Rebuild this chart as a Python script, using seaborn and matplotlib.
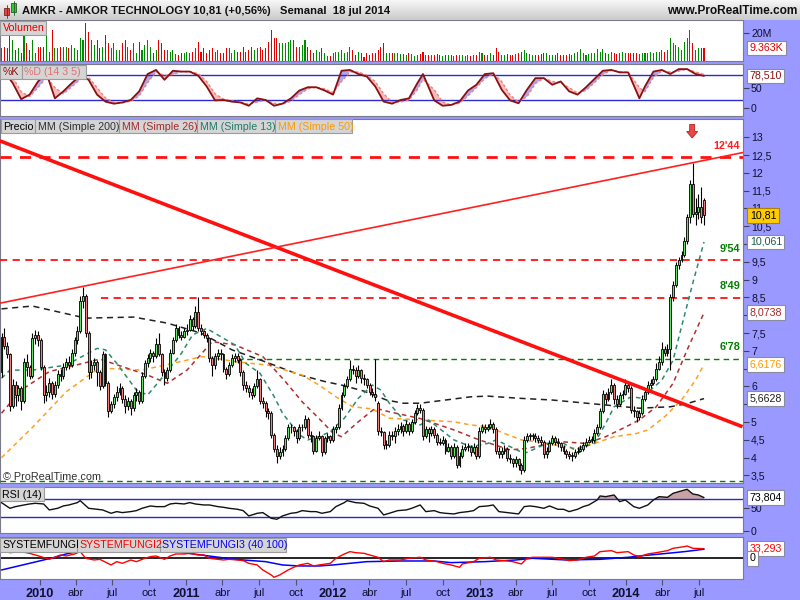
import numpy as np
import pandas as pd
import matplotlib
matplotlib.use("Agg")
import matplotlib.pyplot as plt
import matplotlib.dates as mdates
import matplotlib.transforms as mtrans
from matplotlib.patches import Rectangle, Polygon
from matplotlib.colors import LinearSegmentedColormap
import seaborn as sns

sns.set_theme(style="white")
plt.rcParams["font.family"] = ["Liberation Sans", "DejaVu Sans"]

# ------------------------------------------------------------------ data
first_week = "2009-09-28"   # weekly candles, one per week

open_ = [6.40,7.40,7.15,6.90,5.45,6.05,5.75,5.95,5.60,6.70,
         6.55,6.30,7.35,7.45,7.30,6.55,5.75,5.85,6.10,5.80,
         6.05,6.35,6.30,6.55,6.70,6.60,6.95,7.30,7.55,8.40,
         8.55,7.50,6.40,6.60,6.70,6.40,6.00,6.90,6.10,5.30,
         5.50,5.70,5.85,5.95,5.65,5.45,5.60,5.40,5.75,5.85,
         5.60,6.30,6.65,6.80,6.95,6.85,7.20,6.90,6.40,6.25,
         6.45,6.95,7.30,7.65,7.45,7.40,7.55,7.60,7.90,7.70,
         8.10,7.65,7.55,7.45,7.35,6.80,6.60,6.85,6.95,6.90,
         6.50,6.35,6.60,6.80,6.85,6.75,6.40,6.05,5.95,5.85,
         5.75,6.00,6.20,5.60,5.55,5.30,5.25,4.65,4.25,4.05,
         4.15,4.25,4.55,4.85,4.85,4.75,4.55,4.85,4.85,5.10,
         4.65,4.60,4.20,4.55,4.60,4.15,4.55,4.60,4.50,4.80,
         4.85,5.40,5.75,6.00,6.20,6.50,6.45,6.30,6.45,6.25,
         6.20,6.05,5.85,5.80,5.55,4.75,4.72,4.35,4.35,4.65,
         4.60,4.75,4.80,4.90,4.75,4.95,4.75,5.00,5.25,5.40,
         5.35,4.60,4.80,4.70,4.80,4.65,4.45,4.42,4.50,4.20,
         4.30,4.05,4.30,3.80,4.05,4.25,4.30,4.30,4.15,4.30,
         4.05,4.75,4.85,4.80,4.85,4.95,4.80,4.20,4.10,4.20,
         4.25,4.00,3.95,3.85,3.95,3.80,3.65,4.50,4.60,4.60,
         4.60,4.55,4.50,4.45,4.10,4.20,4.40,4.55,4.45,4.40,
         4.30,4.20,4.10,4.05,4.05,4.15,4.20,4.25,4.35,4.45,
         4.50,4.50,4.70,4.85,5.30,5.80,5.65,5.85,6.05,5.65,
         5.50,5.75,5.80,6.05,5.95,5.35,5.30,5.15,5.25,5.65,
         5.85,6.05,6.10,6.20,6.50,6.70,7.05,6.95,7.05,8.50,
         8.85,9.40,9.55,9.70,10.10,10.75,11.70,10.85,10.90,11.05,11.25]

close = [7.40,7.15,6.90,5.45,6.05,5.75,5.95,5.60,6.70,6.55,
         6.30,7.35,7.45,7.30,6.55,5.75,5.85,6.10,5.80,6.05,
         6.35,6.30,6.55,6.70,6.60,6.95,7.30,7.55,8.40,8.55,
         7.50,6.40,6.60,6.70,6.40,6.00,6.90,6.10,5.30,5.50,
         5.70,5.85,5.95,5.65,5.45,5.60,5.40,5.75,5.85,5.60,
         6.30,6.65,6.80,6.95,6.85,7.20,6.90,6.40,6.25,6.45,
         6.95,7.30,7.65,7.45,7.40,7.55,7.60,7.90,7.70,8.10,
         7.65,7.55,7.45,7.35,6.80,6.60,6.85,6.95,6.90,6.50,
         6.35,6.60,6.80,6.85,6.75,6.40,6.05,5.95,5.85,5.75,
         6.00,6.20,5.60,5.55,5.30,5.25,4.65,4.25,4.05,4.15,
         4.25,4.55,4.85,4.85,4.75,4.55,4.85,4.85,5.10,4.65,
         4.60,4.20,4.55,4.60,4.15,4.55,4.60,4.50,4.80,4.85,
         5.40,5.75,6.00,6.20,6.50,6.45,6.30,6.45,6.25,6.20,
         6.05,5.85,5.80,5.70,4.75,4.72,4.35,4.35,4.65,4.60,
         4.75,4.80,4.90,4.75,4.95,4.75,5.00,5.25,5.40,5.35,
         4.60,4.80,4.70,4.80,4.65,4.45,4.42,4.50,4.20,4.30,
         4.05,4.30,3.80,4.05,4.25,4.30,4.30,4.15,4.30,4.05,
         4.75,4.85,4.80,4.85,4.95,4.80,4.20,4.10,4.20,4.25,
         4.00,3.95,3.85,3.95,3.80,3.65,4.50,4.60,4.60,4.60,
         4.55,4.50,4.45,4.10,4.20,4.40,4.55,4.45,4.40,4.30,
         4.20,4.10,4.05,4.05,4.15,4.20,4.25,4.35,4.45,4.50,
         4.50,4.70,4.85,5.30,5.80,5.65,5.85,6.05,5.65,5.50,
         5.75,5.80,6.05,5.95,5.35,5.30,5.15,5.25,5.65,5.85,
         6.05,6.10,6.20,6.50,6.70,7.05,6.95,7.05,8.50,8.85,
         9.40,9.55,9.70,10.10,10.75,11.70,10.85,10.90,11.05,10.75,10.81]

high = [7.50,7.65,7.25,6.95,6.20,6.15,6.05,6.00,6.80,6.90,
        6.60,7.50,7.60,7.55,7.35,6.60,6.05,6.25,6.15,6.15,
        6.45,6.50,6.65,6.80,6.85,7.05,7.40,7.70,8.55,8.80,
        8.60,7.55,6.75,6.80,6.75,6.45,7.00,6.95,6.15,5.60,
        5.80,6.00,6.10,6.00,5.75,5.70,5.65,5.85,5.95,5.90,
        6.40,6.75,6.90,7.05,7.00,7.35,7.50,6.95,6.50,6.55,
        7.05,7.40,7.75,7.70,7.55,7.65,7.75,8.00,7.95,8.25,
        8.50,7.75,7.60,7.50,7.40,6.85,6.95,7.05,7.05,6.95,
        6.55,6.70,6.90,6.95,6.95,6.80,6.45,6.15,6.05,5.95,
        6.10,6.45,6.25,5.70,5.60,5.40,5.30,4.70,4.35,4.30,
        4.35,4.65,4.95,4.95,4.90,4.80,4.95,4.95,5.20,5.15,
        4.75,4.65,4.65,4.75,4.65,4.60,4.70,4.65,4.90,4.95,
        5.50,5.85,6.10,6.30,6.75,6.60,6.55,6.60,6.50,6.35,
        6.25,6.10,5.95,6.78,5.60,4.85,4.75,4.50,4.75,4.75,
        4.85,4.95,5.00,4.95,5.05,5.00,5.10,5.35,5.50,5.50,
        5.40,4.90,4.85,4.90,4.85,4.70,4.55,4.60,4.55,4.40,
        4.35,4.40,4.35,4.15,4.35,4.40,4.40,4.35,4.40,4.35,
        4.85,4.95,4.95,4.95,5.10,5.00,4.85,4.30,4.30,4.35,
        4.30,4.10,4.00,4.05,4.00,3.85,4.60,4.70,4.70,4.70,
        4.70,4.65,4.60,4.50,4.30,4.50,4.65,4.60,4.55,4.45,
        4.35,4.25,4.20,4.15,4.25,4.30,4.35,4.45,4.55,4.60,
        4.60,4.80,4.95,5.40,5.90,5.85,5.95,6.20,6.10,5.75,
        5.85,5.90,6.20,6.15,6.00,5.45,5.35,5.35,5.75,5.95,
        6.15,6.20,6.30,6.65,6.85,7.25,7.15,7.20,8.60,8.95,
        9.50,9.65,9.80,10.20,10.85,11.80,12.27,11.30,11.40,11.60,11.30]

low = [6.28,7.05,6.80,5.30,5.40,5.45,5.60,5.35,5.55,6.30,
       6.20,6.25,7.20,7.15,6.45,5.55,5.60,5.70,5.65,5.70,
       5.95,6.15,6.20,6.45,6.50,6.55,6.85,7.20,7.50,8.20,
       7.40,6.20,6.25,6.45,6.00,5.90,5.95,6.00,5.15,5.25,
       5.40,5.60,5.75,5.55,5.25,5.35,5.20,5.30,5.60,5.50,
       5.55,6.25,6.55,6.70,6.70,6.80,6.85,6.30,6.05,6.15,
       6.40,6.90,7.25,7.35,7.30,7.35,7.45,7.55,7.60,7.65,
       7.55,7.45,7.35,7.25,6.70,6.30,6.50,6.75,6.75,6.40,
       6.20,6.30,6.55,6.70,6.65,6.30,5.90,5.85,5.70,5.65,
       5.70,5.95,5.50,5.40,5.15,5.10,4.55,4.15,3.85,3.95,
       4.05,4.20,4.50,4.70,4.60,4.40,4.50,4.75,4.80,4.55,
       4.45,4.10,4.15,4.50,4.05,4.10,4.45,4.40,4.45,4.70,
       4.80,5.35,5.70,5.95,6.15,6.35,6.10,6.25,6.10,6.05,
       5.95,5.75,5.70,5.60,4.65,4.60,4.25,4.25,4.30,4.50,
       4.40,4.65,4.70,4.60,4.70,4.65,4.70,4.95,5.20,5.25,
       4.50,4.55,4.45,4.60,4.55,4.35,4.35,4.35,4.10,4.15,
       3.95,4.00,3.70,3.75,4.00,4.20,4.20,4.05,4.10,3.95,
       4.00,4.70,4.70,4.75,4.80,4.70,4.10,4.00,4.00,4.10,
       3.90,3.85,3.75,3.75,3.65,3.55,3.60,4.45,4.50,4.50,
       4.45,4.40,4.35,4.00,4.00,4.15,4.35,4.35,4.30,4.20,
       4.10,4.00,3.95,3.90,4.00,4.10,4.15,4.20,4.30,4.40,
       4.40,4.45,4.65,4.80,5.25,5.50,5.60,5.80,5.50,5.40,
       5.45,5.65,5.75,5.85,5.25,5.15,5.00,5.05,5.20,5.60,
       5.80,5.95,6.05,6.15,6.45,6.60,6.85,6.85,6.45,8.40,
       8.80,9.30,9.50,9.65,10.00,10.60,10.75,10.55,10.70,10.60,10.55]

volume_m = [9.1,10.3,9.5,18.8,15.2,8.0,9.1,5.5,18.8,12.8,
            8.0,15.2,5.5,10.4,10.4,10.4,18.8,6.7,22.4,9.1,
            9.1,10.4,10.4,10.4,9.1,11.5,9.1,7.9,16.4,15.2,
            27.2,21.2,15.2,11.5,15.2,9.1,10.4,18.8,12.8,9.1,
            12.8,7.9,7.9,12.8,15.2,10.4,7.9,12.8,5.5,14.0,
            7.9,11.5,15.2,10.4,5.5,7.9,15.2,12.8,7.9,7.9,
            6.7,7.9,4.8,4.1,5.5,5.5,6.7,5.5,6.7,9.1,
            13.7,6.7,9.1,5.5,7.9,9.1,6.7,7.9,5.5,5.5,
            9.1,9.1,5.5,7.9,6.7,6.7,10.4,6.7,7.9,10.4,
            7.9,9.1,10.4,7.9,9.1,14.0,22.4,16.4,16.4,12.8,
            12.8,12.8,14.0,15.2,15.2,10.4,10.4,11.5,15.2,10.4,
            7.9,5.5,7.9,6.7,9.1,5.5,3.6,3.6,5.5,6.7,
            6.7,7.9,5.5,6.7,10.4,7.9,4.1,6.7,5.5,3.1,
            5.5,4.1,5.5,5.5,7.9,10.4,12.8,5.5,5.5,5.5,
            5.8,5.5,5.0,5.0,4.6,5.5,5.0,3.6,4.6,5.0,
            6.2,4.6,4.1,4.6,4.1,5.0,4.1,3.6,4.1,4.6,
            4.1,3.6,4.6,4.1,4.1,3.6,4.1,3.6,4.6,4.6,
            6.2,5.5,4.6,4.6,5.5,4.1,9.1,6.7,4.6,4.1,
            5.0,4.1,4.1,5.0,5.5,6.2,7.9,6.0,5.0,4.1,
            4.6,4.1,5.0,5.5,6.0,4.6,4.1,4.1,6.0,4.6,
            4.6,4.1,5.0,4.1,5.5,6.2,8.4,5.5,4.6,5.0,
            5.5,5.5,8.4,6.7,8.4,5.5,5.0,6.2,5.5,5.0,
            5.5,6.2,5.5,5.5,6.0,6.0,5.5,5.0,5.5,6.0,
            5.5,6.2,5.5,6.7,6.2,7.9,6.7,7.9,16.4,12.8,
            11.6,10.4,7.9,14.0,16.4,22.4,12.8,7.9,9.1,9.1,9.36]

# moving averages, read at sample candles
ma200_idx = [0, 11, 30, 47, 59, 71, 82, 94, 106, 115, 121, 129, 137, 143, 149, 155, 167, 173, 184, 196, 215, 227, 238, 244, 250]
ma200 = [8.18, 8.26, 7.92, 7.95, 7.78, 7.50, 7.03, 6.69, 6.33, 6.14, 6.04, 5.87, 5.62, 5.53, 5.53, 5.59, 5.71, 5.73, 5.67, 5.62, 5.48, 5.39, 5.43, 5.52, 5.66]
ma50_idx = [0, 11, 23, 33, 37, 50, 66, 71, 75, 83, 95, 107, 113, 119, 125, 132, 138, 149, 161, 167, 173, 179, 185, 190, 197, 204, 211, 218, 226, 230, 236, 242, 247, 250]
ma50 = [4.00, 4.85, 5.85, 6.42, 6.51, 6.46, 6.74, 6.84, 6.81, 6.70, 6.60, 6.32, 6.04, 5.71, 5.43, 5.37, 5.11, 5.06, 5.01, 4.92, 4.87, 4.68, 4.50, 4.45, 4.36, 4.26, 4.40, 4.59, 4.68, 4.78, 5.15, 5.62, 6.18, 6.62]
ma26_idx = [0, 7, 17, 29, 35, 52, 59, 66, 75, 83, 93, 101, 107, 113, 118, 121, 127, 133, 138, 149, 161, 170, 181, 187, 193, 199, 208, 215, 221, 227, 233, 239, 244, 250]
ma26 = [5.25, 5.90, 6.42, 6.65, 6.77, 6.32, 6.09, 6.46, 7.26, 7.17, 6.84, 6.14, 5.57, 5.10, 4.69, 4.59, 5.01, 5.39, 5.29, 5.10, 4.78, 4.50, 4.22, 4.26, 4.36, 4.45, 4.40, 4.59, 4.82, 5.06, 5.43, 6.09, 7.03, 8.07]
ma13_idx = [0, 3, 11, 23, 34, 37, 41, 48, 52, 59, 64, 68, 73, 83, 87, 92, 97, 100, 106, 109,
            113, 117, 122, 127, 132, 135, 138, 143, 149, 152, 161, 167, 173, 176, 181, 186, 189, 194, 199, 204,
            211, 215, 218, 224, 228, 231, 235, 239, 242, 246, 250]
ma13 = [6.23, 6.46, 6.46, 6.60, 7.07, 7.03, 6.65, 5.90, 5.76, 6.42, 6.93, 7.45, 7.63, 7.17, 6.65, 6.37, 5.72, 5.25, 4.64, 4.50,
        4.59, 4.73, 5.11, 5.67, 6.04, 5.90, 5.53, 5.06, 4.92, 5.06, 4.50, 4.31, 4.40, 4.50, 4.31, 4.12, 4.22, 4.40, 4.45, 4.22,
        4.40, 4.96, 5.43, 5.71, 5.67, 5.90, 6.18, 6.74, 7.68, 8.90, 10.06]

# horizontal levels and trend lines
level_values = [12.44, 9.54, 8.49, 6.78]
level_labels = ["12'44", "9'54", "8'49", "6'78"]
level_starts = ["2009-09-24", "2009-09-24", "2010-06-04", "2011-05-07"]
floor_level = 3.34
trend_dates = ["2009-09-24", "2014-10-18"]
trend_down = [12.90, 4.87]
trend_up = [8.34, 12.57]

# stochastic %K / %D (14 3 5)
sto_idx = [1,4,7,10,13,16,19,22,25,28, 31,34,37,40,43,46,49,52,55,58,
           61,64,67,70,73,76,79,82,85,88, 91,94,97,100,103,106,109,112,115,118,
           121,124,127,130,133,136,139,142,145,148, 150,154,157,160,163,166,169,172,175,178,
           181,184,187,190,193,196,199,202,205,208, 211,214,217,220,223,227,229,232,235,238,
           241,244,247,250]
sto_k = [89,61,22,33,65,85,24,41,61,79, 69,33,16,11,14,20,41,83,93,69,
         91,89,89,79,53,19,20,16,14,6, 24,20,6,11,24,43,51,51,43,33,
         91,93,83,77,53,16,11,20,24,61, 83,19,6,8,16,43,57,83,85,45,
         19,12,45,73,73,57,65,41,33,51, 71,91,93,87,87,24,53,89,93,83,
         95,95,83,78.5]
sto_d = [85,75,40,28,50,75,50,35,52,70, 75,50,25,14,13,17,30,62,88,80,
         82,89,89,84,65,35,22,18,15,10, 15,20,12,10,17,33,47,51,47,38,
         65,88,88,80,65,35,15,15,20,45, 70,45,15,8,12,30,50,72,84,65,
         32,15,28,60,73,65,62,50,37,43, 62,82,92,89,87,50,40,75,90,88,
         90,95,88,82]

# RSI (14)
rsi_idx = [0,3,5,8,10,12,15,17,20,22, 24,27,28,31,34,36,39,41,43,46,
           48,50,53,55,58,60,62,65,67,69, 72,74,77,79,81,84,86,88,91,93,
           96,98,100,103,105,107,110,112,114,117, 119,122,123,126,129,131,134,136,138,141,
           144,146,149,151,154,156,158,161,163,166, 168,170,173,175,177,180,182,184,186,188,
           190,193,195,198,200,202,205,207,209,212, 213,215,218,220,222,225,227,230,232,234,
           237,239,241,244,246,248,250]
rsi = [62.6,50,53.7,57.4,59.6,61.1,59.6,46.3,50,55.2, 57.4,62.6,67,50,47.8,46.3,38.9,42.6,40.4,42.6,
       44.8,50,55.2,53.7,53.7,59.6,61.1,59.6,62.6,59.6, 57.4,57.4,53.7,52.2,50,47.8,44.8,33,38.9,40.4,
       27.8,25.6,33,38.9,40.4,44.8,42.6,42.6,38.9,42.6, 53.7,62.6,67,62.6,61.1,55.2,50,35.2,38.9,44.8,
       46.3,50,57.4,42.6,44.8,40.4,38.9,37.4,40.4,42.6, 44.8,53.7,55.2,57.4,42.6,40.4,38.9,37.4,53.7,55.2,
       53.7,50,55.2,47.8,47.8,42.6,47.8,53.7,57.4,68.5, 77.4,75.9,79.6,64.8,68.5,53.7,50,57.4,68.5,75.9,
       74.4,83.3,87,92.2,81.8,79.6,73.8]

# SYSTEMFUNGI2 (red) and SYSTEMFUNGI3 (blue)
sf2_idx = [0,3,7,10,14,17,21,23,26,28, 30,33,35,39,41,43,46,48,51,53,
           55,58,60,62,65,67,70,72,74,77, 79,81,84,86,88,91,93,96,97,99,
           102,104,106,109,111,113,117,119,122,124, 126,129,131,134,136,138,142,145,149,151,
           155,157,160,163,164,168,170,174,176,179, 182,185,187,189,193,196,200,202,205,208,
           211,213,217,219,223,225,227,230,233,237, 239,243,244,246,250]
sf2 = [26.6,19.6,23.1,17.3,5.8,-3.5,11.6,8.1,15,23.1, 0,-5.8,-3.5,-23.1,-11.6,-17.4,-5.8,-11.6,0,5.8,
       8.1,-3.5,8.1,15,15,17.3,11.6,11.6,0,-3.5, -5.8,-3.5,-5.8,-8.1,-17.4,-23.1,-40.5,-57.8,-65.9,-57.8,
       -40.5,-31.2,-23.1,-17.4,-26.6,-23.1,-17.4,0,15,23.1, 19.6,17.3,11.6,3.5,-11.6,-5.8,-5.8,0,3.5,-5.8,
       -11.6,-17.4,-23.1,-31.2,-19.7,-11.6,0,3.5,-5.8,-8.1, -11.6,-19.7,0,3.5,3.5,3.5,-3.5,-8.1,-5.8,3.5,
       8.1,23.1,26.6,19.6,23.1,11.6,5.8,15,19.6,26.6, 34.7,40.5,42.8,34.7,33.3]
sf3_idx = [0, 4, 9, 14, 19, 23, 27, 35, 47, 56, 62, 71, 83, 94, 100, 106, 113, 118, 130, 142,
           154, 160, 172, 183, 189, 201, 213, 223, 227, 237, 243, 250]
sf3 = [-40.5, -31.2, -19.7, -8.1, 3.5, 15, 23.1, 34.7, 46, 34.7, 23.1, 11.6, -3.5, -11.6, -23.1, -26.6, -26.6, -23.1, -11.6, -9.3,
       -9.3, -15, -11.6, -5.8, 0, -5.8, -3.5, 3.5, 8.1, 17.3, 23.1, 31.5]

# last-value boxes on the right scale
last_close, prev_change = 10.81, "+0,56%"
last_ma13, last_ma26, last_ma50, last_ma200 = 10.061, 8.0738, 6.6176, 5.6628
last_volume_k = 9.363
last_k, last_rsi, last_sf2 = 78.510, 73.804, 33.293

# ------------------------------------------------------------------ layout
W, H = 800, 600
PLOT_R = 742.7
fig = plt.figure(figsize=(8, 6), dpi=100, facecolor="#9999ff")

def panel(top, bottom):
    ax = fig.add_axes([0, 1 - bottom / H, PLOT_R / W, (bottom - top) / H])
    ax.set_facecolor("white")
    for s in ax.spines.values():
        s.set_color("#7a7a8a")
        s.set_linewidth(0.8)
    return ax

ax_vol = panel(20, 61)
ax_sto = panel(64, 116)
ax_main = panel(118.5, 483)
ax_rsi = panel(486.7, 533.3)
ax_sf = panel(537.3, 579)
axes = [ax_vol, ax_sto, ax_main, ax_rsi, ax_sf]

dates = pd.date_range(first_week, periods=len(close), freq="7D")
xn = mdates.date2num(dates)
x_left = mdates.date2num(dates[0] - pd.Timedelta(days=3.74))
x_right = mdates.date2num(dates[0] + pd.Timedelta(days=263.77 * 7))

o = np.array(open_); c = np.array(close); hi = np.array(high); lo = np.array(low)
up = c >= o

def sline(ax, idx, vals, color, lw=1.0, ls="-", z=3):
    sns.lineplot(x=xn[np.asarray(idx)], y=np.asarray(vals, float), ax=ax, color=color,
                 linewidth=lw, linestyle=ls, legend=False, zorder=z, errorbar=None)

# ---- volume
ax_vol.bar(xn, volume_m, width=2.6, color=np.where(up, "#008a00", "#e00000"), linewidth=0)
ax_vol.set_ylim(0, 29.6)

# ---- stochastic
K = np.array(sto_k, float); D = np.array(sto_d, float); xs = xn[np.array(sto_idx)]
ax_sto.fill_between(xs, K, D, where=K >= D, interpolate=True, color="#aaaaee", lw=0, zorder=1)
ax_sto.fill_between(xs, K, D, where=K < D, interpolate=True, color="#f6bcbc", lw=0, zorder=1)
for lv in (20, 80):
    ax_sto.axhline(lv, color="#2a2ad0", lw=1.0, zorder=2)
sline(ax_sto, sto_idx, sto_d, "#f08080", lw=1.0, ls=(0, (2, 1.5)), z=3)
sline(ax_sto, sto_idx, sto_k, "#8b1010", lw=1.3, z=4)
ax_sto.set_ylim(-18.9, 107.4)

# ---- main price panel
ax_main.vlines(xn, lo, hi, color="black", lw=0.8, zorder=5)
ax_main.bar(xn, np.maximum(np.abs(c - o), 0.025), bottom=np.minimum(o, c), width=4.8,
            color=np.where(up, "#66e066", "#f08080"), edgecolor="black", linewidth=0.6, zorder=6)

sline(ax_main, ma200_idx, ma200, "#202020", lw=1.1, ls=(0, (4, 3)), z=4)
sline(ax_main, ma50_idx, ma50, "#ffa020", lw=1.1, ls=(0, (3, 2.5)), z=4)
sline(ax_main, ma26_idx, ma26, "#b03030", lw=1.1, ls=(0, (3, 2.5)), z=4)
sline(ax_main, ma13_idx, ma13, "#2e8b67", lw=1.1, ls=(0, (3, 2.5)), z=4)

td = mdates.date2num(pd.to_datetime(trend_dates))
ax_main.plot(td, trend_down, color="#ff1010", lw=2.6, zorder=7, solid_capstyle="butt")
ax_main.plot(td, trend_up, color="#ff2020", lw=1.2, zorder=7)

tr_main = mtrans.blended_transform_factory(ax_main.transAxes, ax_main.transData)
for val, lab, start in zip(level_values, level_labels, level_starts):
    xs0 = mdates.date2num(pd.Timestamp(start))
    green = val < 7
    col = "#008000" if green else "#ff1010"
    lw = 2.0 if val > 12 else (1.0 if green else 1.3)
    ax_main.plot([xs0, x_right], [val, val], color=col, lw=lw, ls=(0, (4, 3)), zorder=3)
    ax_main.text(0.997, val + 0.32, lab, transform=tr_main, ha="right", va="center", fontsize=7.8,
                 fontweight="bold", color="#ff2020" if val > 12 else "#008000", zorder=8)
ax_main.plot([x_left, x_right], [floor_level, floor_level], color="#008000", lw=1.0, ls=(0, (4, 3)), zorder=3)

# red block arrow above the highest candle (shape in inches, anchored at the data point)
peak = int(np.argmax(hi))
arrow_tf = fig.dpi_scale_trans + mtrans.ScaledTranslation(xn[peak] - 1.5, 12.98, ax_main.transData)
arrow_shape = [(0, 0), (-0.055, 0.065), (-0.025, 0.065), (-0.025, 0.135),
               (0.025, 0.135), (0.025, 0.065), (0.055, 0.065)]
ax_main.add_patch(Polygon(arrow_shape, closed=True, transform=arrow_tf, fc="#e84848",
                          ec="#b82020", lw=0.6, zorder=9, clip_on=False))
ax_main.set_ylim(3.289, 13.528)

# ---- RSI
R = np.array(rsi, float); xr = xn[np.array(rsi_idx)]
ax_rsi.fill_between(xr, R, 70, where=R > 70, interpolate=True, color="#c9a3a3", lw=0, zorder=1)
for lv in (30, 70):
    ax_rsi.axhline(lv, color="#2a2ac0", lw=1.0, zorder=2)
sline(ax_rsi, rsi_idx, rsi, "#111111", lw=1.0, z=3)
ax_rsi.set_ylim(-5.6, 98.0)

# ---- SYSTEMFUNGI
ax_sf.axhline(0, color="black", lw=1.2, zorder=2)
sline(ax_sf, sf3_idx, sf3, "#0000ff", lw=1.1, z=3)
sline(ax_sf, sf2_idx, sf2, "#ff0000", lw=1.0, z=4)
ax_sf.set_ylim(-71.8, 72.9)

# ---- axes styling
tick_col = "#101030"
for ax in axes:
    ax.set_xlim(x_left, x_right)
    ax.set_xlabel(""); ax.set_ylabel("")
    ax.yaxis.tick_right()
    ax.tick_params(axis="y", which="both", direction="out", length=4, width=0.8, color="#404060",
                   labelsize=7.6, labelcolor=tick_col, pad=2, right=True, left=False, labelright=True, labelleft=False)
    ax.tick_params(axis="x", bottom=False, labelbottom=False)
    ax.grid(False)

def fmt(v):
    return f"{v:g}".replace(".", ",")

ax_vol.set_yticks([20]); ax_vol.set_yticklabels(["20M"])
ax_sto.set_yticks([0, 50]); ax_sto.set_yticklabels(["0", "50"])
mt = np.arange(3.5, 13.01, 0.5)
box_levels = [last_close, last_ma13, last_ma26, last_ma50, last_ma200]
# tick labels that sit under a value box are covered in the chart
main_labels = ["" if min(abs(v - b) for b in box_levels if b != last_close) < 0.2 else fmt(v) for v in mt]
ax_main.set_yticks(mt); ax_main.set_yticklabels(main_labels)
ax_rsi.set_yticks([0, 50]); ax_rsi.set_yticklabels(["0", "50"])
ax_sf.set_yticks([])

tick_dates = pd.date_range("2010-01-01", "2014-07-01", freq="QS")
month_names = {1: None, 4: "abr", 7: "jul", 10: "oct"}
ax_sf.set_xticks(mdates.date2num(tick_dates))
ax_sf.set_xticklabels([str(d.year) if d.month == 1 else month_names[d.month] for d in tick_dates])
ax_sf.tick_params(axis="x", bottom=True, labelbottom=True, direction="out", length=4, width=0.8,
                  color="#505070", pad=2.5, labelsize=8, labelcolor=tick_col)
for lab, d in zip(ax_sf.get_xticklabels(), tick_dates):
    if d.month == 1:
        lab.set_fontweight("bold")
        lab.set_fontsize(9.2)

def vbox(ax, y, text, color, fc="white", ec="#8a8aa0"):
    tr = mtrans.blended_transform_factory(ax.transAxes, ax.transData)
    ax.text(1.0095, y, text, transform=tr, ha="left", va="center", fontsize=7.7, color=color,
            bbox=dict(boxstyle="square,pad=0.22", fc=fc, ec=ec, lw=0.8), zorder=20, clip_on=False)

vbox(ax_vol, last_volume_k, f"{last_volume_k:.3f}K", "#e00000")
vbox(ax_sto, last_k, f"{last_k:.3f}".replace(".", ","), "#8b1010")
vbox(ax_main, last_ma13, "10,061", "#1d5c4a")
vbox(ax_main, last_close, "10,81", "#000000", fc="#ffcc00", ec="#b08000")
vbox(ax_main, last_ma26, "8,0738", "#a52a2a")
vbox(ax_main, last_ma50, "6,6176", "#ff9900")
vbox(ax_main, last_ma200, "5,6628", "#202020")
vbox(ax_rsi, last_rsi, "73,804", "#000000")
vbox(ax_sf, last_sf2, "33,293", "#ff0000")
vbox(ax_sf, 0, "0", "#000000")

# ---- title bar
tax = fig.add_axes([0, 1 - 20 / H, 1, 20 / H], zorder=20)
grad = np.linspace(0, 1, 20)[:, None]
tax.imshow(grad, cmap=LinearSegmentedColormap.from_list("g", ["#f6f6f6", "#cbcbcb"]),
           aspect="auto", extent=[0, W, 20, 0])
tax.set_xlim(0, W); tax.set_ylim(20, 0); tax.axis("off")
tax.add_patch(Rectangle((4, 8), 5, 7, fc="#e04848", ec="#802020", lw=0.6))
tax.plot([6.5, 6.5], [5, 18], color="#802020", lw=0.6)
tax.add_patch(Rectangle((11, 3), 5, 9, fc="#40c040", ec="#206020", lw=0.6))
tax.plot([13.5, 13.5], [1, 15], color="#206020", lw=0.6)
tb = dict(fontsize=8.1, fontweight="bold", color="#101010", va="center")
tax.text(22, 10.5, "AMKR - AMKOR TECHNOLOGY", **tb)
tax.text(193, 10.5, f"{fmt(last_close)} ({prev_change})", **tb)
tax.text(280, 10.5, "Semanal  18 jul 2014", **tb)
tax.text(797, 10.5, "www.ProRealTime.com", ha="right", fontsize=8.6, fontweight="bold", color="#101010", va="center")

# ---- overlay tags (pixel coordinates)
ov = fig.add_axes([0, 0, 1, 1], zorder=30)
ov.set_xlim(0, W); ov.set_ylim(H, 0); ov.axis("off")

def tag_row(y0, items, h=14):
    for text, color, xa, xb in items:
        ov.add_patch(Rectangle((xa, y0), xb - xa, h, fc="#d5d5d5", ec="#9c9c9c", lw=0.8))
        ov.text(xa + 2.5, y0 + h / 2 + 0.5, text, color=color, fontsize=7.7, va="center", ha="left")

tag_row(20.5, [("Volumen", "#e00000", 0, 46)])
tag_row(64.5, [("%K", "#8b1010", 0, 22), ("%D (14 3 5)", "#e07070", 22, 86)])
tag_row(119, [("Precio", "#000000", 1, 35), ("MM (Simple 200)", "#303030", 35, 119),
              ("MM (Simple 26)", "#a52a2a", 119, 197), ("MM (Simple 13)", "#1f7a6a", 197, 275),
              ("MM (Simple 50)", "#ff9900", 275, 352)])
tag_row(487, [("RSI (14)", "#000000", 0, 44)])
tag_row(537.5, [("SYSTEMFUNGI", "#000000", 0, 77), ("SYSTEMFUNGI2", "#ff0000", 77, 160),
                ("SYSTEMFUNGI3 (40 100)", "#0000ff", 160, 286)])
ov.text(3, 477.5, "\u00a9 ProRealTime.com", fontsize=7.8, color="#303030", va="center", ha="left")

fig.savefig("out.png", dpi=100, facecolor=fig.get_facecolor())
